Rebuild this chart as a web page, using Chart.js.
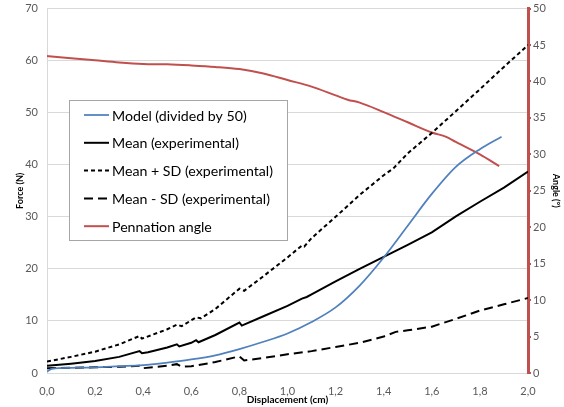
<!DOCTYPE html>
<html><head><meta charset="utf-8">
<script src="https://cdn.jsdelivr.net/npm/chart.js@4"></script>
<style>html,body{margin:0;padding:0;background:#fff}</style>
</head><body>
<canvas id="c" width="564" height="407"></canvas>
<script>
// ---- data ----
const xTickLabels = ['0,0','0,2','0,4','0,6','0,8','1,0','1,2','1,4','1,6','1,8','2,0'];
const forceTickLabels = ['0','10','20','30','40','50','60','70'];
const angleTickLabels = ['0','5','10','15','20','25','30','35','40','45','50'];
const seriesLabels = ['Model (divided by 50)','Mean (experimental)','Mean + SD (experimental)','Mean - SD (experimental)','Pennation angle'];
const xTitle = 'Displacement (cm)';
const forceTitle = 'Force (N)';
const angleTitle = 'Angle (°)';

const modelX = [0,0.02,0.1,0.2,0.3,0.4,0.5,0.6,0.7,0.8,0.9,1.0,1.1,1.2,1.3,1.4,1.5,1.6,1.7,1.8,1.89];
const modelY = [0.3,0.8,1.0,1.1,1.3,1.5,2.0,2.6,3.4,4.6,6.0,7.6,9.8,12.6,16.8,22.2,28.3,34.4,39.6,43.0,45.4];

const meanX = [0,0.1,0.2,0.3,0.385,0.395,0.42,0.5,0.54,0.55,0.6,0.62,0.63,0.7,0.8,0.81,0.9,1.0,1.06,1.08,1.1,1.2,1.3,1.4,1.5,1.6,1.7,1.8,1.9,2.0];
const meanY = [1.4,1.8,2.3,3.1,4.2,3.8,4.0,4.9,5.5,5.1,5.8,6.3,5.9,7.3,9.7,9.1,10.9,12.9,14.3,14.6,15.1,17.6,20.0,22.3,24.6,27.0,30.1,32.9,35.6,38.7];

const plusX = [0,0.1,0.2,0.3,0.385,0.395,0.5,0.54,0.56,0.62,0.64,0.7,0.8,0.82,0.9,1.0,1.06,1.07,1.1,1.2,1.3,1.4,1.44,1.5,1.6,1.7,1.8,1.9,2.0];
const plusY = [2.2,3.1,4.1,5.5,7.1,6.6,8.4,9.3,9.0,10.7,10.5,12.3,16.2,15.8,18.6,22.2,24.5,24.3,25.9,30.0,34.2,38.0,39.3,42.2,46.1,50.3,54.5,58.8,63.0];

const minusX = [0,0.1,0.2,0.3,0.385,0.395,0.5,0.54,0.56,0.6,0.7,0.8,0.82,0.9,1.0,1.1,1.2,1.3,1.4,1.45,1.5,1.6,1.7,1.8,1.9,2.0];
const minusY = [0.9,1.0,1.1,1.2,1.4,0.9,1.4,1.7,1.2,1.3,2.1,3.2,2.4,2.9,3.6,4.2,5.0,5.8,7.0,7.9,8.2,8.9,10.4,12.0,13.2,14.4];

const angleX = [0,0.1,0.2,0.3,0.4,0.5,0.6,0.7,0.8,0.9,1.0,1.1,1.2,1.25,1.3,1.4,1.5,1.6,1.66,1.7,1.8,1.88];
const angleY = [43.5,43.2,42.9,42.6,42.4,42.35,42.2,42.0,41.7,41.1,40.2,39.3,38.1,37.5,37.1,35.8,34.4,33.0,32.4,31.7,30.0,28.4];

const pts = (xs, ys) => xs.map((x, i) => ({x: x, y: ys[i]}));

const RED = '#c0504d', BLUE = '#4f81bd', GRAY = '#595959', GRID = '#d9d9d9';
const TICKFONT = {family: 'Lato', size: 11};

const legendPlugin = {
  id: 'boxLegend',
  afterDraw(chart) {
    const ctx = chart.ctx;
    ctx.save();
    const bx = 69.5, by = 100.5, bw = 218, bh = 140;
    ctx.fillStyle = '#ffffff';
    ctx.fillRect(bx, by, bw, bh);
    ctx.strokeStyle = '#a6a6a6';
    ctx.lineWidth = 1;
    ctx.strokeRect(bx, by, bw, bh);
    ctx.font = '100px Lato';
    const w = ctx.measureText('Mean + SD (experimental)').width;
    const fs = 100 * 161 / w;
    ctx.font = fs.toFixed(2) + 'px Lato';
    ctx.textBaseline = 'middle';
    chart.data.datasets.forEach((ds, i) => {
      const y = 115 + i * 27.8;
      ctx.beginPath();
      ctx.strokeStyle = ds.borderColor;
      ctx.lineWidth = ds.borderWidth;
      ctx.setLineDash(ds.borderDash || []);
      ctx.moveTo(84, y);
      ctx.lineTo(109, y);
      ctx.stroke();
      ctx.setLineDash([]);
      ctx.fillStyle = '#000';
      ctx.fillText(ds.label, 112, y + 1);
    });
    ctx.restore();
  }
};

new Chart(document.getElementById('c'), {
  type: 'line',
  data: {
    datasets: [
      {label: seriesLabels[0], data: pts(modelX, modelY), borderColor: BLUE, borderWidth: 1.75, cubicInterpolationMode: 'monotone', yAxisID: 'y'},
      {label: seriesLabels[1], data: pts(meanX, meanY), borderColor: '#000000', borderWidth: 2, yAxisID: 'y'},
      {label: seriesLabels[2], data: pts(plusX, plusY), borderColor: '#000000', borderWidth: 2, borderDash: [4, 3], yAxisID: 'y'},
      {label: seriesLabels[3], data: pts(minusX, minusY), borderColor: '#000000', borderWidth: 2, borderDash: [9, 5], yAxisID: 'y'},
      {label: seriesLabels[4], data: pts(angleX, angleY), borderColor: RED, borderWidth: 2, cubicInterpolationMode: 'monotone', yAxisID: 'y1'}
    ]
  },
  options: {
    responsive: false,
    animation: false,
    devicePixelRatio: 1,
    elements: {point: {radius: 0}, line: {fill: false}},
    layout: {padding: {top: 0, left: 0, right: 0, bottom: 0}},
    plugins: {legend: {display: false}, tooltip: {enabled: false}},
    scales: {
      x: {
        type: 'linear', min: 0, max: 2,
        ticks: {stepSize: 0.2, color: GRAY, font: TICKFONT, padding: 4, maxRotation: 0,
          callback: (v, i) => xTickLabels[i]},
        grid: {display: false},
        border: {display: true, color: GRID, width: 1},
        title: {display: true, text: xTitle, color: '#000', font: {family: 'Lato', size: 10, weight: 'bold'}, padding: {top: 0, bottom: 1}},
        afterFit: s => { s.height = 34; }
      },
      y: {
        position: 'left', min: 0, max: 70,
        ticks: {stepSize: 10, color: GRAY, font: TICKFONT, padding: 1,
          callback: (v, i) => forceTickLabels[i]},
        grid: {color: GRID, lineWidth: 1, drawTicks: true, tickLength: 8, tickColor: 'rgba(0,0,0,0)'},
        border: {display: true, color: GRID, width: 1},
        title: {display: true, text: forceTitle, color: '#000', font: {family: 'Lato', size: 9, weight: 'bold'}, padding: {top: 15, bottom: 0}},
        afterFit: s => { s.width = 47; }
      },
      y1: {
        position: 'right', min: 0, max: 50,
        ticks: {stepSize: 5, color: GRAY, font: TICKFONT, padding: 2,
          callback: (v, i) => angleTickLabels[i]},
        grid: {drawOnChartArea: false, color: RED, tickLength: 3, lineWidth: 2},
        border: {display: true, color: RED, width: 3},
        title: {display: true, text: angleTitle, color: '#000', font: {family: 'Lato', size: 9, weight: 'bold'}, padding: {top: 3, bottom: 0}},
        afterFit: s => { s.width = 36; }
      }
    }
  },
  plugins: [legendPlugin]
});
</script>
</body></html>
